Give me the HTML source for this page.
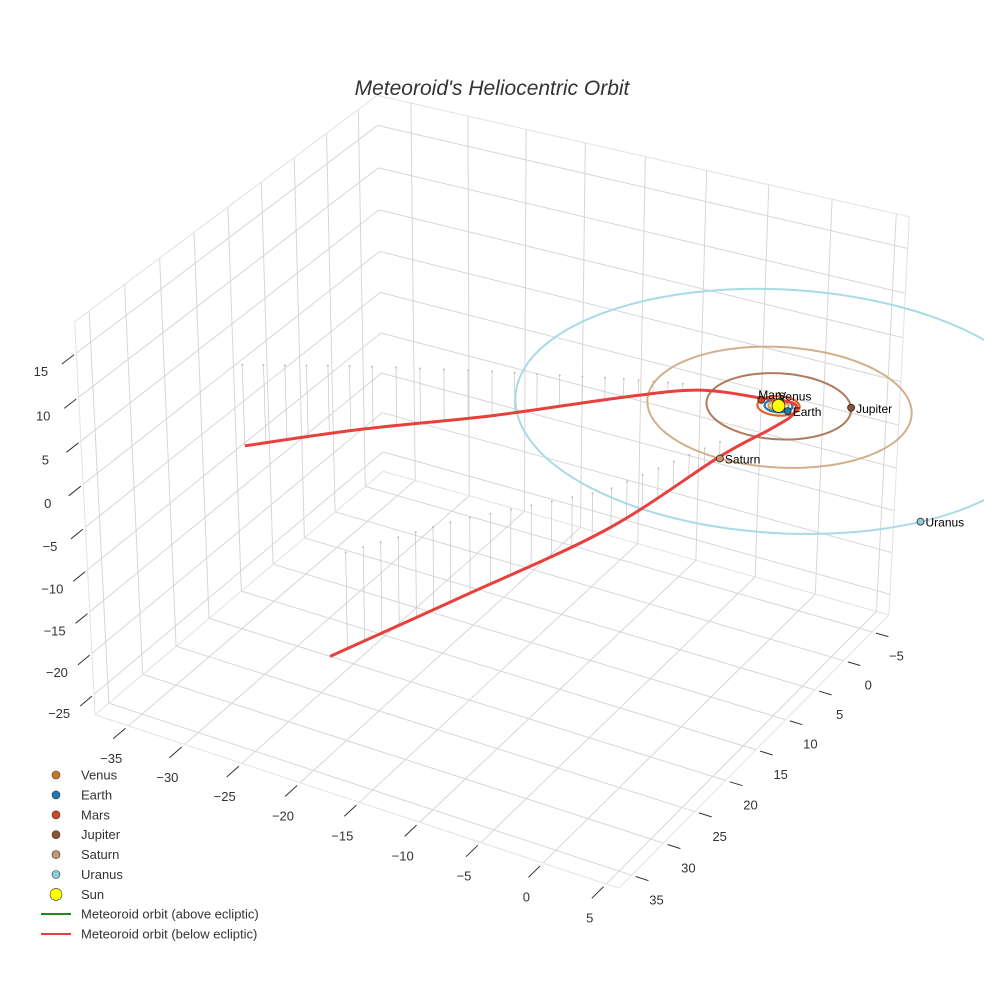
<!DOCTYPE html>
<html><head><meta charset="utf-8"><style>
html,body{margin:0;padding:0;background:#fff;}
svg{display:block;font-family:"Liberation Sans",sans-serif;}
</style></head><body>
<svg id="chart" width="984" height="984" viewBox="0 0 984 984" xmlns="http://www.w3.org/2000/svg">
<rect width="984" height="984" fill="#fff"/>
<text x="492" y="95" text-anchor="middle" font-size="21" font-style="italic" fill="#333">Meteoroid's Heliocentric Orbit</text>
<g id="grid"></g>
<g id="ticks"></g>
<g id="stems"></g>
<g id="orbits"></g>
<g id="meteor"></g>
<g id="planets"></g>
<g id="legend"></g>
</svg>
<script>
// axis tick values
const xTicks = [-35,-30,-25,-20,-15,-10,-5,0,5];
const yTicks = [-5,0,5,10,15,20,25,30,35];
const zTicks = [-25,-20,-15,-10,-5,0,5,10,15];
// planets
const planetNames = ["Venus","Earth","Mars","Jupiter","Saturn","Uranus"];
const planetRadius = [0.72,1.0,1.52,5.2,9.5,19.2];
const planetX = [-0.2,0.92,-1.48,4.62,-0.1,15.9];
const planetY = [-0.69,0.40,-0.24,-2.4,9.5,10.7];
const planetColors = ["#c8781e","#1f77b4","#d2461e","#8c5232","#c8966e","#8ccde0"];
const orbitColors = ["#d8a040","#1f77b4","#e8602c","#b07a5a","#d2b08c","#a8dbe6"];
// meteoroid orbit samples (x, y, z in AU)
const meteorX = [-37.5,-29.6,-20.6,-12.1,-6.5,-1.45,0.8,1.3,0.6,-1.2,-4.9,-12.0,-17.2];
const meteorY = [14.5,10.1,5.8,2.1,0.0,-0.5,-0.9,0.4,2.6,7.2,18.0,27.5,37.0];
const meteorZ = [-9.7,-7.5,-5.2,-2.3,-0.6,0,0,-0.3,-0.8,-1.7,-4.5,-9.0,-11.3];

const xr=[-38,6], yr=[-8,37], zr=[-27.5,18.5];
const cx=(xr[0]+xr[1])/2, cy=(yr[0]+yr[1])/2, cz=(zr[0]+zr[1])/2;
const hx=(xr[1]-xr[0])/2, hy=(yr[1]-yr[0])/2, hz=(zr[1]-zr[0])/2;
const S0=[492,472], ex=[12,3.35], ey=[-6.36,5.55], ez=[0,-8.6];
function P(x,y,z){
  const t=((x-cx)/hx+(y-cy)/hy)/2, s=1+0.075*t+0.025*(z-cz)/hz;
  const dx=x-cx, dy=y-cy, dz=z-cz;
  return [S0[0]+s*(ex[0]*dx+ey[0]*dy+ez[0]*dz), S0[1]+s*(ex[1]*dx+ey[1]*dy+ez[1]*dz)];
}
const NS="http://www.w3.org/2000/svg";
function mk(parent,tag,attrs){const e=document.createElementNS(NS,tag);for(const k in attrs)e.setAttribute(k,attrs[k]);parent.appendChild(e);return e;}
function line(g,a,b,col,w){return mk(g,"line",{x1:a[0].toFixed(1),y1:a[1].toFixed(1),x2:b[0].toFixed(1),y2:b[1].toFixed(1),stroke:col,"stroke-width":w});}
const grid=document.getElementById("grid"), ticks=document.getElementById("ticks");
const gc="#d6d6d6";
xTicks.forEach(v=>{const l=line(grid,P(v,yr[0],zr[0]),P(v,yr[1],zr[0]),gc,1);


const l2=line(grid,P(v,yr[0],zr[0]),P(v,yr[0],zr[1]),gc,1);

});
yTicks.forEach(v=>{const l=line(grid,P(xr[0],v,zr[0]),P(xr[1],v,zr[0]),gc,1);


const l2=line(grid,P(xr[0],v,zr[0]),P(xr[0],v,zr[1]),gc,1);

});
zTicks.forEach(v=>{const l=line(grid,P(xr[0],yr[0],v),P(xr[0],yr[1],v),gc,1);


const l2=line(grid,P(xr[0],yr[0],v),P(xr[1],yr[0],v),gc,1);

});
[[[xr[0],yr[0],zr[0]],[xr[1],yr[0],zr[0]]],[[xr[0],yr[0],zr[0]],[xr[0],yr[1],zr[0]]],[[xr[0],yr[1],zr[0]],[xr[1],yr[1],zr[0]]],[[xr[1],yr[0],zr[0]],[xr[1],yr[1],zr[0]]],
 [[xr[0],yr[1],zr[0]],[xr[0],yr[1],zr[1]]],[[xr[1],yr[0],zr[0]],[xr[1],yr[0],zr[1]]],[[xr[0],yr[0],zr[1]],[xr[0],yr[1],zr[1]]],[[xr[0],yr[0],zr[1]],[xr[1],yr[0],zr[1]]]].forEach(e=>{
 const l=line(grid,P(...e[0]),P(...e[1]),"#e2e2e2",1);
 
 });
function label(txt,p,dx,dy,name){const t=mk(ticks,"text",{x:(p[0]+dx).toFixed(1),y:(p[1]+dy).toFixed(1),"font-size":"13","text-anchor":"middle",fill:"#333"});t.textContent=txt.replace("-","\u2212");

}
xTicks.forEach(v=>{const a=P(v,yr[1]+0.4,zr[0]),b=P(v,yr[1]+2.2,zr[0]);const l=line(ticks,a,b,"#333",1);


label(String(v),b,-2,24,'x-tick-label');});
yTicks.forEach(v=>{const a=P(xr[1]+0.3,v,zr[0]),b=P(xr[1]+1.3,v,zr[0]);const l=line(ticks,a,b,"#333",1);


label(String(v),b,8,24,'y-tick-label');});
zTicks.forEach(v=>{const a=P(xr[0],yr[1]+0.3,v),b=P(xr[0],yr[1]+2.0,v);const l=line(ticks,a,b,"#333",1);


label(String(v),b,-21,12,'z-tick-label');});
const og=document.getElementById("orbits");
planetRadius.forEach((r,i)=>{let d="";for(let k=0;k<=120;k++){const a=k/120*2*Math.PI;const p=P(r*Math.cos(a),r*Math.sin(a),0);d+=(k?"L":"M")+p[0].toFixed(1)+","+p[1].toFixed(1);}
const e=mk(og,"path",{d:d,fill:"none",stroke:orbitColors[i],"stroke-width":i>=3?2:2.2});

});
const mp=meteorX.map((x,i)=>P(x,meteorY[i],meteorZ[i]));
function smooth(pts){let d="M"+pts[0][0].toFixed(1)+","+pts[0][1].toFixed(1);for(let i=0;i<pts.length-1;i++){const p0=pts[Math.max(i-1,0)],p1=pts[i],p2=pts[i+1],p3=pts[Math.min(i+2,pts.length-1)];
const c1=[p1[0]+(p2[0]-p0[0])/6,p1[1]+(p2[1]-p0[1])/6],c2=[p2[0]-(p3[0]-p1[0])/6,p2[1]-(p3[1]-p1[1])/6];
d+="C"+c1.map(v=>v.toFixed(1)).join(",")+" "+c2.map(v=>v.toFixed(1)).join(",")+" "+p2[0].toFixed(1)+","+p2[1].toFixed(1);}return d;}
const sg=document.getElementById("stems");
function stemsAlong(i0,i1,n){for(let k=0;k<n;k++){const f=k/n*(i1-i0)+i0;const i=Math.floor(f),u=f-i;const j=Math.min(i+1,meteorX.length-1);
const x=meteorX[i]+(meteorX[j]-meteorX[i])*u,y=meteorY[i]+(meteorY[j]-meteorY[i])*u,z=meteorZ[i]+(meteorZ[j]-meteorZ[i])*u;
const a=P(x,y,z),b=P(x,y,0);const l=line(sg,a,b,"#c4c4c4",0.7);


const c=mk(sg,"circle",{cx:b[0].toFixed(1),cy:b[1].toFixed(1),r:1,fill:"#bbb"});

}}
stemsAlong(0,4,22);stemsAlong(9,12,22);
const mpath=mk(document.getElementById("meteor"),"path",{d:smooth(mp),fill:"none",stroke:"#e8403c","stroke-width":3});


const pg=document.getElementById("planets");
planetNames.forEach((n,i)=>{const p=P(planetX[i],planetY[i],0);const c=mk(pg,"circle",{cx:p[0].toFixed(1),cy:p[1].toFixed(1),r:3.5,fill:planetColors[i],stroke:"#222","stroke-width":0.8});


const t=mk(pg,"text",{x:(p[0]+(n==="Mars"?-3:(n==="Venus"?-2:5))).toFixed(1),y:(p[1]+(n==="Venus"||n==="Mars"?-1:5)).toFixed(1),"font-size":"12",fill:"#000"});t.textContent=n;

});
const sp=P(0,0,0);const sun=mk(pg,"circle",{cx:sp[0].toFixed(1),cy:sp[1].toFixed(1),r:6.5,fill:"#ffff00",stroke:"#222","stroke-width":0.8});


const lg=document.getElementById("legend");
const legNames=["Venus","Earth","Mars","Jupiter","Saturn","Uranus","Sun"];
const legCols=["#c8781e","#1f77b4","#d2461e","#8c5232","#c8966e","#8ccde0","#ffff00"];
legNames.forEach((n,i)=>{const y=775+i*19.9;const c=mk(lg,"circle",{cx:56,cy:y,r:i===6?6:4,fill:legCols[i],stroke:"#333","stroke-width":0.6});


const t=mk(lg,"text",{x:81,y:y+4.5,"font-size":"13",fill:"#333"});t.textContent=n;

});
[["Meteoroid orbit (above ecliptic)","#1f8a1f"],["Meteoroid orbit (below ecliptic)","#e8403c"]].forEach((e,i)=>{const y=914+i*20;
const l=line(lg,[41,y],[71,y],e[1],2);


const t=mk(lg,"text",{x:81,y:y+4.5,"font-size":"13",fill:"#333"});t.textContent=e[0];

});
</script>
</body></html>
